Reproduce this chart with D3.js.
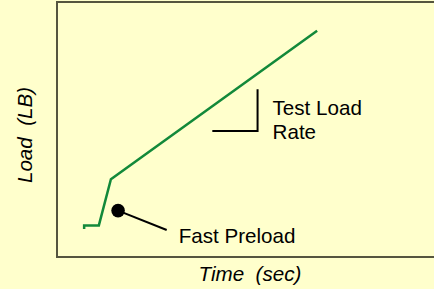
<!DOCTYPE html>
<html>
<head>
<meta charset="utf-8">
<script src="https://cdn.jsdelivr.net/npm/d3@7"></script>
<style>
  body { margin: 0; background: #ffffcc; }
  svg { display: block; }
</style>
</head>
<body>
<script>
// størrelse
const w = 434;
const h = 289;

// belastningskurve (tid, last) i relative enheder
const time = [7.2, 7.2, 11.1, 14.3, 69];
const load = [11, 12.4, 12.4, 30.5, 88.7];

// markør for hurtig forbelastning
const preloadPoint = [16.2, 18.2];
const preloadLabelAt = [29.1, 10.6];

// hældningstrekant: hjørne, top, venstre
const slopeX = [41.2, 53.2, 53.2];
const slopeY = [49.4, 49.4, 65.8];

const font = "Liberation Sans, Arial, sans-serif";
const fontSize = "20.6px";

const svg = d3.select("body").append("svg").attr("width", w).attr("height", h);

const xScale = d3.scaleLinear().domain([0, 100]).range([57, 434]);
const yScale = d3.scaleLinear().domain([0, 100]).range([257, 2]);

// ramme (ingen højre kant)
svg
  .append("path")
  .attr("d", "M" + 434 + "," + yScale(100) + "H" + xScale(0) + "V" + yScale(0) + "H" + 434)
  .attr("fill", "none")
  .attr("stroke", "#55553f")
  .attr("stroke-width", 2);

const lineData = time.map(function (t, i) {
  return [t, load[i]];
});

const line = d3
  .line()
  .x(function (d) { return xScale(d[0]); })
  .y(function (d) { return yScale(d[1]); });

svg
  .append("path")
  .datum(lineData)
  .attr("d", line)
  .attr("fill", "none")
  .attr("stroke", "#12893a")
  .attr("stroke-width", 2.5)
  .attr("stroke-linejoin", "miter");

// hældning
svg
  .append("path")
  .datum(slopeX.map(function (x, i) { return [x, slopeY[i]]; }))
  .attr("d", line)
  .attr("fill", "none")
  .attr("stroke", "#000")
  .attr("stroke-width", 2);

svg
  .append("text")
  .attr("x", xScale(slopeX[1]) + 15)
  .attr("y", yScale(slopeY[0]) - 16)
  .attr("font-family", font)
  .attr("font-size", fontSize)
  .attr("fill", "#000")
  .text("Test Load");

svg
  .append("text")
  .attr("x", xScale(slopeX[1]) + 15)
  .attr("y", yScale(slopeY[0]) + 8)
  .attr("font-family", font)
  .attr("font-size", fontSize)
  .attr("fill", "#000")
  .text("Rate");

// forbelastning
svg
  .append("line")
  .attr("x1", xScale(preloadPoint[0]))
  .attr("y1", yScale(preloadPoint[1]))
  .attr("x2", xScale(preloadLabelAt[0]))
  .attr("y2", yScale(preloadLabelAt[1]))
  .attr("stroke", "#000")
  .attr("stroke-width", 2);

svg
  .append("circle")
  .attr("cx", xScale(preloadPoint[0]))
  .attr("cy", yScale(preloadPoint[1]))
  .attr("r", 6.8)
  .attr("fill", "#000");

svg
  .append("text")
  .attr("x", xScale(preloadLabelAt[0]) + 12)
  .attr("y", yScale(preloadLabelAt[1]) + 13)
  .attr("font-family", font)
  .attr("font-size", fontSize)
  .attr("fill", "#000")
  .text("Fast Preload");

// aksetitler
svg
  .append("text")
  .attr("x", 250)
  .attr("y", 281)
  .attr("text-anchor", "middle")
  .attr("font-family", font)
  .attr("font-style", "italic")
  .attr("font-size", fontSize)
  .attr("fill", "#000")
  .style("white-space", "pre")
  .text("Time  (sec)");

svg
  .append("text")
  .attr("transform", "translate(" + 32 + "," + 135 + ") rotate(-90)")
  .attr("text-anchor", "middle")
  .attr("font-family", font)
  .attr("font-style", "italic")
  .attr("font-size", fontSize)
  .attr("fill", "#000")
  .style("white-space", "pre")
  .text("Load  (LB)");
</script>
</body>
</html>
